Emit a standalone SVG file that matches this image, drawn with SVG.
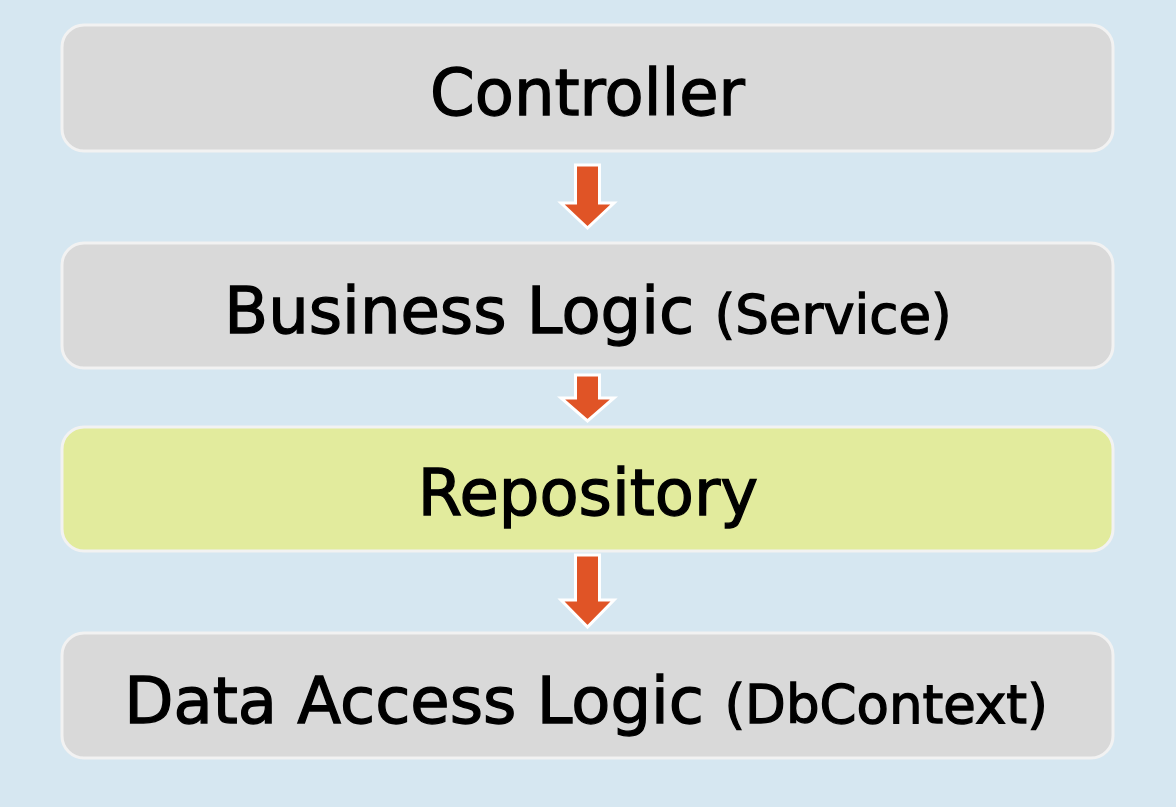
<svg xmlns="http://www.w3.org/2000/svg" width="1176" height="807" viewBox="0 0 1176 807">
<style>
.box{stroke:#f2f2f2;stroke-width:3}
.gray{fill:#d9d9d9}
.yellow{fill:#e2eb9d}
.lbl{font-family:"DejaVu Sans",sans-serif;font-size:64px;fill:#000;stroke:#000;stroke-width:1.3;text-anchor:middle}
.sm{font-size:53px}
.arr{fill:#e05426;stroke:#ffffff;stroke-width:3;stroke-linejoin:miter}
</style>
<rect width="1176" height="807" fill="#d6e7f1"/>
<g id="controller">
<rect class="box gray" x="62" y="25" width="1051" height="126" rx="22"/>
<text class="lbl" x="587.5" y="115">Controller</text>
</g>
<g id="business">
<rect class="box gray" x="62" y="243" width="1051" height="125" rx="22"/>
<text class="lbl" x="588" y="333">Business Logic <tspan class="sm">(Service)</tspan></text>
</g>
<g id="repository">
<rect class="box yellow" x="62" y="427" width="1051" height="124" rx="22"/>
<text class="lbl" x="588" y="515">Repository</text>
</g>
<g id="dataaccess">
<rect class="box gray" x="62" y="633" width="1051" height="125" rx="22"/>
<text class="lbl" x="586" y="723">Data Access Logic <tspan class="sm">(DbContext)</tspan></text>
</g>
<g id="connectors">
<polygon class="arr" points="575.5,165 599.5,165 599.5,203 614,203 587.5,228 561,203 575.5,203"/>
<polygon class="arr" points="575.5,375 599.5,375 599.5,398 614,398 587.5,421 561,398 575.5,398"/>
<polygon class="arr" points="575.5,555 599.5,555 599.5,600 614,600 587.5,627 561,600 575.5,600"/>
</g>
</svg>
